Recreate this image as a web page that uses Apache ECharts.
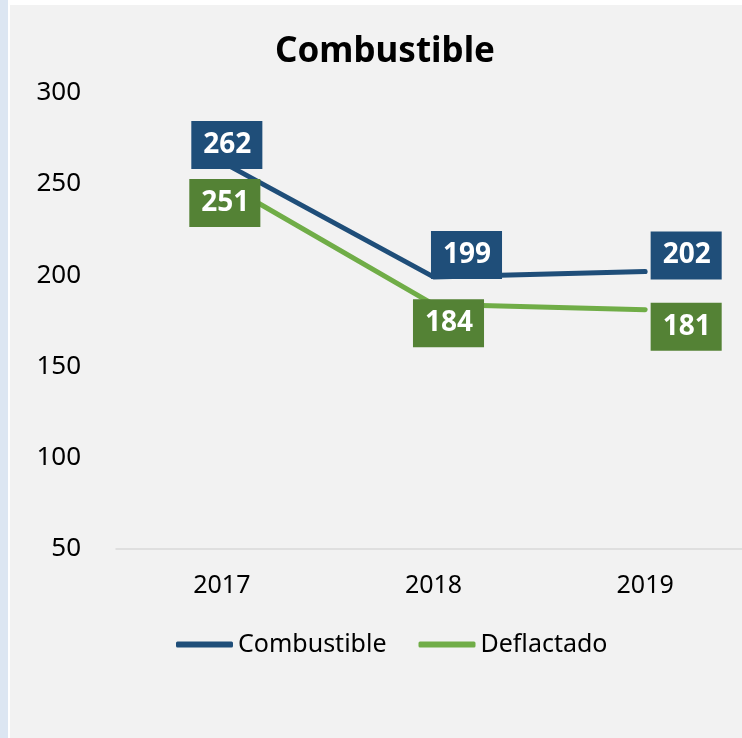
<!DOCTYPE html>
<html>
<head>
<meta charset="utf-8">
<script src="https://cdn.jsdelivr.net/npm/echarts@6/dist/echarts.min.js"></script>
<style>
  body { margin: 0; background: #ffffff; }
  #strip { position: absolute; left: 0; top: 0; width: 8px; height: 738px; background: #dce6f2; }
  #frame { position: absolute; left: 10px; top: 5px; width: 732px; height: 733px; overflow: hidden; background: #f2f2f2; }
  #chart { position: absolute; left: 0; top: 0; width: 770px; height: 733px; }
</style>
</head>
<body>
<div id="strip"></div>
<div id="frame"><div id="chart"></div></div>
<script>
const years = ['2017', '2018', '2019'];
const combustible = [262, 199, 202];
const deflactado = [251, 184, 181];
const yTicks = { min: 50, max: 300, interval: 50 };

// label nudges, like the manual placement in the original
const blueOffsets = [[5, -17], [33, -22], [41, -16]];
const greenOffsets = [[3, 21], [15, 19], [41, 17]];

const font = 'Noto Sans';

function labelled(values, offsets) {
  return values.map(function (v, i) {
    return { value: v, label: { offset: offsets[i] } };
  });
}

function labelStyle(bg) {
  return {
    show: true,
    position: 'inside',
    color: '#ffffff',
    fontFamily: font,
    fontWeight: 'bold',
    fontSize: 28,
    lineHeight: 28,
    backgroundColor: bg,
    padding: [10, 11, 10, 12]
  };
}

const chart = echarts.init(document.getElementById('chart'));

const option = {
  backgroundColor: '#f2f2f2',
  animation: false,
  title: {
    text: 'Combustible',
    left: 260,
    top: 25,
    textStyle: { fontFamily: font, fontWeight: 'bold', fontSize: 35, color: '#000000' }
  },
  legend: {
    left: 161,
    top: 622,
    icon: 'roundRect',
    itemWidth: 57,
    itemHeight: 6,
    itemGap: 32,
    textStyle: { fontFamily: font, fontSize: 25, color: '#000000' },
    data: ['Combustible', 'Deflactado']
  },
  grid: { left: 106, top: 87.5, width: 635, height: 456.5 },
  xAxis: {
    type: 'category',
    data: years,
    axisLine: { lineStyle: { color: '#d9d9d9', width: 1.5 } },
    axisTick: { show: false },
    axisLabel: { fontFamily: font, fontSize: 25, color: '#000000', margin: 24 }
  },
  yAxis: {
    type: 'value',
    min: yTicks.min,
    max: yTicks.max,
    interval: yTicks.interval,
    axisLine: { show: false },
    axisTick: { show: false },
    splitLine: { show: false },
    axisLabel: { fontFamily: font, fontSize: 26, color: '#000000', margin: 35 }
  },
  series: [
    {
      name: 'Deflactado',
      type: 'line',
      data: labelled(deflactado, greenOffsets),
      symbol: 'circle',
      symbolSize: 1,
      color: '#70ad47',
      lineStyle: { width: 5, color: '#70ad47', cap: 'round' },
      label: labelStyle('#548235')
    },
    {
      name: 'Combustible',
      type: 'line',
      data: labelled(combustible, blueOffsets),
      symbol: 'circle',
      symbolSize: 1,
      color: '#1f4e79',
      lineStyle: { width: 5, color: '#1f4e79', cap: 'round' },
      label: labelStyle('#1f4e79')
    }
  ]
};

chart.setOption(option);
</script>
</body>
</html>
